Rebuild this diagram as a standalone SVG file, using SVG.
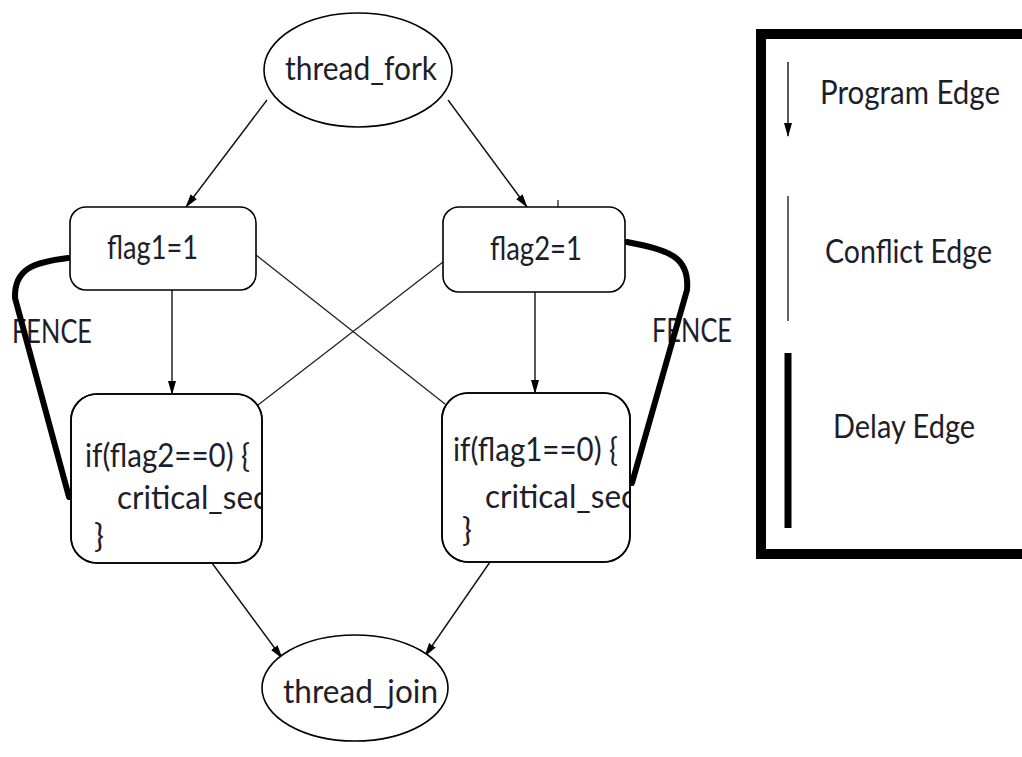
<svg xmlns="http://www.w3.org/2000/svg" width="1022" height="757" viewBox="0 0 1022 757">
  <style>
    .node { fill: #ffffff; stroke: #000000; stroke-width: 1.6; }
    .lbl { font-family: Lato, "Open Sans", "DejaVu Sans", sans-serif; font-size: 33px; fill: #1e1e2a; }
    .prog { stroke: #111111; stroke-width: 1.4; fill: none; marker-end: url(#arrow); }
    .conf { stroke: #222222; stroke-width: 1.3; fill: none; }
    .delay { stroke: #000000; stroke-width: 6; fill: none; stroke-linecap: round; stroke-linejoin: round; }
  </style>
  <defs>
    <marker id="arrow" markerUnits="userSpaceOnUse" markerWidth="14" markerHeight="10" refX="13" refY="4" orient="auto">
      <path d="M0,0 L14,4 L0,8 Z" fill="#000000"/>
    </marker>
    <clipPath id="clipL"><rect x="71" y="394" width="191" height="169" rx="26"/></clipPath>
    <clipPath id="clipR"><rect x="442" y="393" width="188" height="169" rx="26"/></clipPath>
  </defs>
  <rect width="1022" height="757" fill="#ffffff"/>

  <!-- connectors -->
  <g id="connectors">
    <line class="prog" x1="267" y1="100" x2="186" y2="207"/>
    <line class="prog" x1="448" y1="100" x2="527" y2="207"/>
    <line x1="558" y1="200" x2="558" y2="207" stroke="#111" stroke-width="1.2"/>
    <line class="prog" x1="172" y1="290" x2="172" y2="394"/>
    <line class="prog" x1="535" y1="292" x2="535" y2="393"/>
    <line class="conf" x1="256" y1="255" x2="445" y2="404"/>
    <line class="conf" x1="443" y1="262" x2="258" y2="405"/>
    <line class="prog" x1="212" y1="563" x2="282" y2="658"/>
    <line class="prog" x1="490" y1="562" x2="425" y2="656"/>
    <text class="lbl" x="12" y="343" textLength="80" lengthAdjust="spacingAndGlyphs">FENCE</text>
    <text class="lbl" x="652" y="342" textLength="80" lengthAdjust="spacingAndGlyphs">FENCE</text>
    <path class="delay" d="M68 258 C 35 262, 14 268, 15 298 L 69 497"/>
    <path class="delay" d="M627 242 C 668 250, 690 256, 687 290 L 632 483"/>
  </g>

  <g id="thread_fork">
    <ellipse class="node" cx="358" cy="70" rx="94" ry="57"/>
    <text class="lbl" x="285" y="80" textLength="152" lengthAdjust="spacingAndGlyphs">thread_fork</text>
  </g>

  <g id="flag1">
    <rect class="node" x="70" y="207" width="186" height="83" rx="16"/>
    <text class="lbl" x="107" y="259" textLength="91" lengthAdjust="spacingAndGlyphs">flag1=1</text>
  </g>

  <g id="flag2">
    <rect class="node" x="443" y="207" width="182" height="85" rx="16"/>
    <text class="lbl" x="490" y="260" textLength="92" lengthAdjust="spacingAndGlyphs">flag2=1</text>
  </g>

  <g id="check_flag2">
    <rect class="node" x="71" y="394" width="191" height="169" rx="26"/>
    <g clip-path="url(#clipL)">
      <text class="lbl" x="85" y="467" textLength="165" lengthAdjust="spacingAndGlyphs">if(flag2==0) {</text>
      <text class="lbl" x="117" y="509" textLength="151" lengthAdjust="spacingAndGlyphs">critical_sec</text>
      <text class="lbl" x="94" y="547">}</text>
    </g>
    <rect x="71" y="394" width="191" height="169" rx="26" fill="none" stroke="#000" stroke-width="1.6"/>
  </g>

  <g id="check_flag1">
    <rect class="node" x="442" y="393" width="188" height="169" rx="26"/>
    <g clip-path="url(#clipR)">
      <text class="lbl" x="453" y="461" textLength="165" lengthAdjust="spacingAndGlyphs">if(flag1==0) {</text>
      <text class="lbl" x="485" y="508" textLength="151" lengthAdjust="spacingAndGlyphs">critical_sec</text>
      <text class="lbl" x="462" y="541">}</text>
    </g>
    <rect x="442" y="393" width="188" height="169" rx="26" fill="none" stroke="#000" stroke-width="1.6"/>
  </g>

  <g id="thread_join">
    <ellipse class="node" cx="355" cy="688" rx="93" ry="53"/>
    <text class="lbl" x="283" y="703" textLength="155" lengthAdjust="spacingAndGlyphs">thread_join</text>
  </g>

  <!-- legend -->
  <g id="legend">
    <rect x="761" y="34" width="320" height="520" fill="#ffffff" stroke="#000000" stroke-width="10"/>
    <line x1="788" y1="62" x2="788" y2="136" stroke="#111" stroke-width="1.4" marker-end="url(#arrow)"/>
    <text class="lbl" x="820" y="104" textLength="180" lengthAdjust="spacingAndGlyphs">Program Edge</text>
    <line x1="788" y1="196" x2="788" y2="321" stroke="#222" stroke-width="1.4"/>
    <text class="lbl" x="825" y="263" textLength="167" lengthAdjust="spacingAndGlyphs">Conflict Edge</text>
    <line x1="788" y1="353" x2="788" y2="528" stroke="#000" stroke-width="7"/>
    <text class="lbl" x="833" y="438" textLength="142" lengthAdjust="spacingAndGlyphs">Delay Edge</text>
  </g>
</svg>
